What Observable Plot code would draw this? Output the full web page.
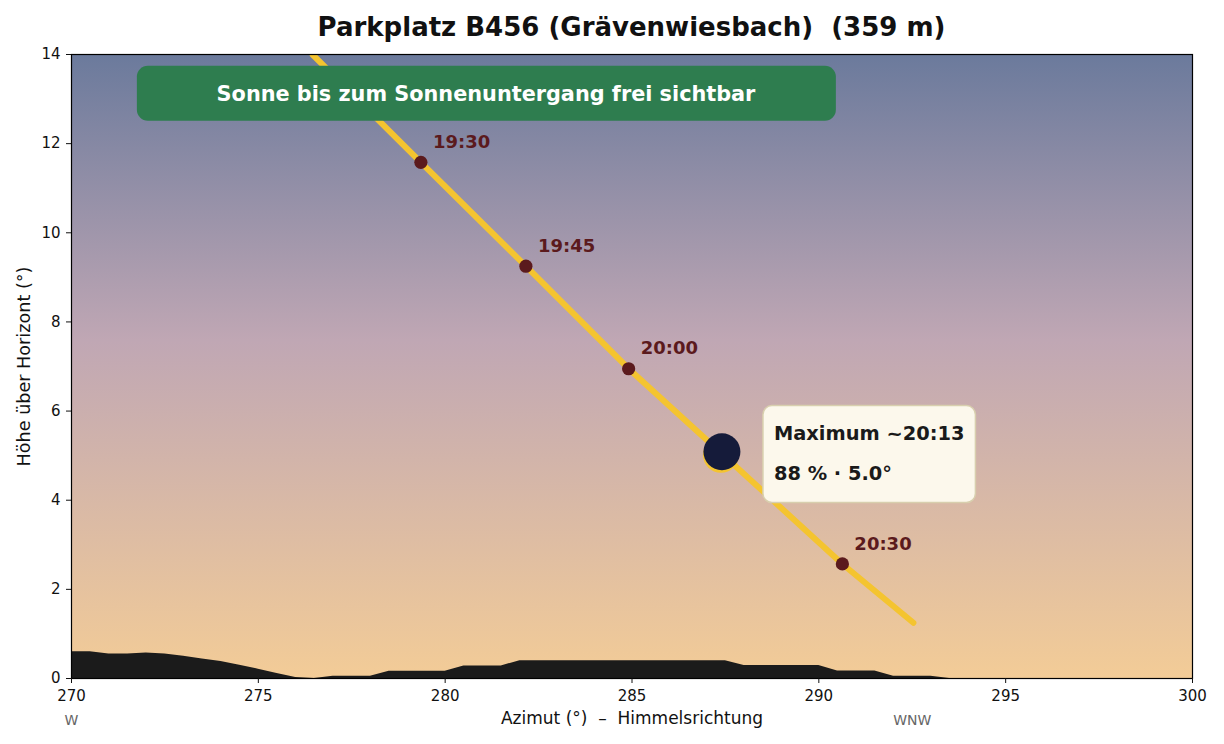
<!DOCTYPE html>
<html>
<head>
<meta charset="utf-8">
<script src="https://cdn.jsdelivr.net/npm/d3@7"></script>
<script src="https://cdn.jsdelivr.net/npm/@observablehq/plot@0.6"></script>
<style>
  html, body { margin: 0; padding: 0; background: white; }
  #title { width: 1224px; height: 44px; box-sizing: border-box; padding-left: 39px; padding-top: 5px; white-space: pre;
    text-align: center; font-family: "DejaVu Sans"; font-weight: bold; font-size: 26px; line-height: 44px; color: #111; overflow: visible; }
</style>
</head>
<body>
<div id="title">Parkplatz B456 (Grävenwiesbach)  (359 m)</div>
<div id="chart"></div>
<script>
// ---- data ----
const horizonAz  = [270, 270.5, 271, 271.5, 272, 272.5, 273, 273.5, 274, 274.5, 275, 275.5, 276, 276.5, 277, 278, 278.5, 280, 280.5, 281.5, 282, 287.5, 288, 290, 290.5, 291.5, 292, 293, 293.5, 300];
const horizonAlt = [0.6, 0.6, 0.55, 0.55, 0.57, 0.55, 0.5, 0.44, 0.38, 0.3, 0.21, 0.11, 0.02, 0, 0.05, 0.05, 0.16, 0.16, 0.28, 0.28, 0.4, 0.4, 0.29, 0.29, 0.17, 0.17, 0.05, 0.05, 0, 0];

const pathTime = ["19:15", "19:30", "19:45", "20:00", "20:15", "20:30", "20:40"];
const pathAz   = [276.45, 279.35, 282.16, 284.91, 287.75, 290.63, 292.53];
const pathAlt  = [14.0, 11.58, 9.25, 6.95, 4.78, 2.57, 1.25];

const markTime = ["19:30", "19:45", "20:00", "20:30"];
const markAz   = [279.35, 282.16, 284.91, 290.63];
const markAlt  = [11.58, 9.25, 6.95, 2.57];

const maxTime = "20:13";
const maxAz = 287.38;
const maxAlt = 5.02;
const maxPercent = 88;

const xTicks = [270, 275, 280, 285, 290, 295, 300];
const yTicks = [0, 2, 4, 6, 8, 10, 12, 14];
const compassAz = [270, 292.5];
const compassLabel = ["W", "WNW"];

const bannerText = "Sonne bis zum Sonnenuntergang frei sichtbar";
const xLabel = "Azimut (°)  –  Himmelsrichtung";
const yLabel = "Höhe über Horizont (°)";

// ---- tables ----
const horizon = horizonAz.map((az, i) => ({az, alt: horizonAlt[i]}));
const path = pathAz.map((az, i) => ({t: pathTime[i], az, alt: pathAlt[i]}));
const marks = markAz.map((az, i) => ({t: markTime[i], az, alt: markAlt[i]}));
const maxPt = [{az: maxAz, alt: maxAlt, text: `Maximum ~${maxTime}\n${maxPercent} % · ${maxAlt.toFixed(1)}°`}];
const compass = compassAz.map((az, i) => ({az, label: compassLabel[i]}));

function skyGradient(index, scales, values, dimensions) {
  const {width, height, marginLeft, marginRight, marginTop, marginBottom} = dimensions;
  const g = d3.create("svg:g");
  const lg = g.append("defs").append("linearGradient")
    .attr("id", "skygrad").attr("x1", 0).attr("y1", 0).attr("x2", 0).attr("y2", 1);
  [["0%", "#6b7a9c"], ["46%", "#c0a7b4"], ["100%", "#f3cc97"]].forEach(([o, c]) =>
    lg.append("stop").attr("offset", o).attr("stop-color", c));
  g.append("rect")
    .attr("x", marginLeft).attr("y", marginTop)
    .attr("width", width - marginLeft - marginRight)
    .attr("height", height - marginTop - marginBottom)
    .attr("fill", "url(#skygrad)");
  return g.node();
}

const chart = Plot.plot({
  width: 1224,
  height: 700,
  marginLeft: 71,
  marginRight: 32,
  marginTop: 10,
  marginBottom: 66,
  style: {fontFamily: "DejaVu Sans", fontSize: "15px", background: "white", color: "#111"},
  x: {domain: [270, 300]},
  y: {domain: [0, 14]},
  marks: [
    skyGradient,
    Plot.areaY(horizon, {x: "az", y: "alt", fill: "#1b1b1b", curve: "linear"}),
    Plot.line(path, {x: "az", y: "alt", stroke: "#f4c430", strokeWidth: 6, strokeLinecap: "round", clip: true}),
    Plot.dot(marks, {x: "az", y: "alt", r: 6.6, fill: "#5b1a1d"}),
    Plot.text(marks, {x: "az", y: "alt", text: "t", dx: 12, dy: -20, textAnchor: "start",
      fill: "#5b1a1d", fontWeight: "bold", fontSize: 18}),
    Plot.dot(maxPt, {x: "az", y: "alt", r: 18, fill: "#f4c430"}),
    Plot.dot(maxPt, {x: "az", y: "alt", r: 18.5, fill: "#151b3a", dx: 1, dy: -3}),
    Plot.text(maxPt, {x: "az", y: "alt", text: "text", dx: 53, dy: -8, textAnchor: "start", lineAnchor: "middle",
      lineHeight: 2.06, fill: "#1a1a1a", fontWeight: "bold", fontSize: 19.4}),
    Plot.text([bannerText], {frameAnchor: "top-left", dx: 414.5, dy: 39.5, textAnchor: "middle", lineAnchor: "middle",
      fill: "white", fontWeight: "bold", fontSize: 20.8}),
    Plot.frame({stroke: "black", strokeWidth: 1.2}),
    Plot.axisX({ticks: xTicks, tickSize: 5, tickPadding: 7, label: null, fontSize: 15}),
    Plot.axisY({ticks: yTicks, tickSize: 5, tickPadding: 6, label: null, fontSize: 15}),
    Plot.text([xLabel], {frameAnchor: "bottom", dy: 40, lineAnchor: "middle", fontSize: 17, fill: "#111"}),
    Plot.text([yLabel], {frameAnchor: "left", dx: -47, rotate: -90, textAnchor: "middle", lineAnchor: "middle", fontSize: 17.6, fill: "#111"}),
    Plot.text(compass, {x: "az", text: "label", frameAnchor: "bottom", dy: 42, lineAnchor: "middle", fontSize: 14, fill: "#666"})
  ]
});

document.getElementById("chart").append(chart);

// boxes behind annotation texts
function boxBehind(match, opts) {
  chart.querySelectorAll("text").forEach(t => {
    if (!t.textContent.startsWith(match)) return;
    const b = t.getBBox();
    const w = opts.width != null ? opts.width : b.width + 2 * opts.padX;
    const h = opts.height;
    const cx = b.x + b.width / 2, cy = b.y + b.height / 2 + (opts.offsetY || 0);
    const r = document.createElementNS("http://www.w3.org/2000/svg", "rect");
    r.setAttribute("x", cx - w / 2);
    r.setAttribute("y", cy - h / 2);
    r.setAttribute("width", w);
    r.setAttribute("height", h);
    r.setAttribute("rx", opts.rx);
    r.setAttribute("fill", opts.fill);
    if (opts.stroke) { r.setAttribute("stroke", opts.stroke); r.setAttribute("stroke-width", opts.strokeWidth); }
    const tr = t.getAttribute("transform");
    if (tr) r.setAttribute("transform", tr);
    t.parentNode.insertBefore(r, t);
  });
}
boxBehind(bannerText, {width: 699, height: 55, rx: 11, fill: "#2e7d4f", offsetY: -0.5});
boxBehind("Maximum", {padX: 11, height: 97, rx: 9, fill: "#fcf8ec", stroke: "#d8cfae", strokeWidth: 1.5, offsetY: 1});
</script>
</body>
</html>
